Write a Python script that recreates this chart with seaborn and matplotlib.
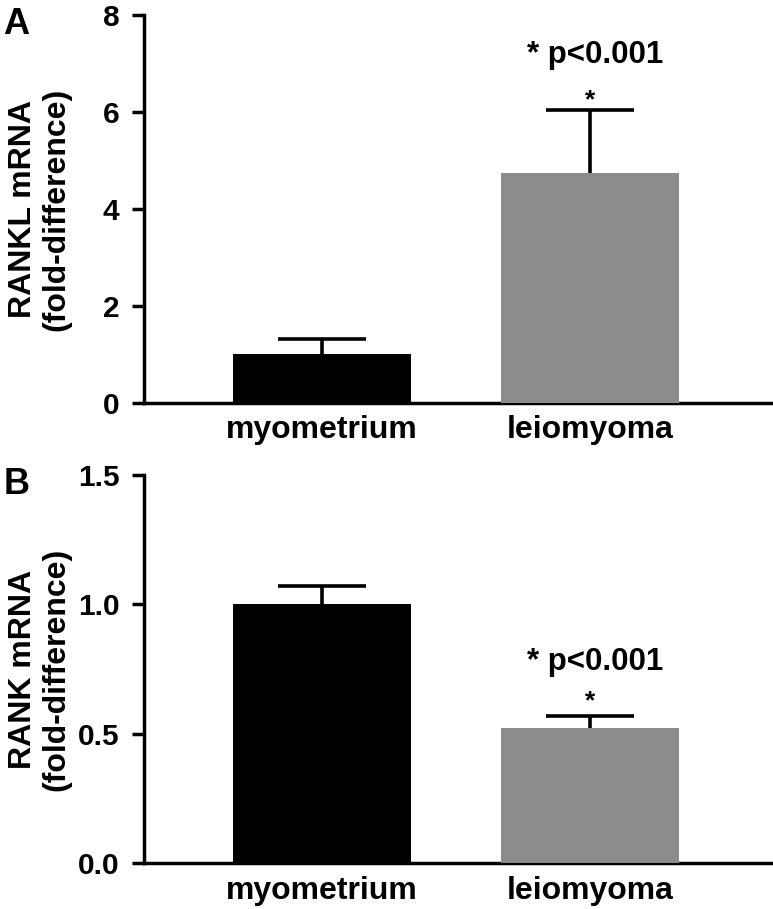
import numpy as np
import matplotlib
matplotlib.use("Agg")
import matplotlib.pyplot as plt
import seaborn as sns
import pandas as pd

# data
groups = ["myometrium", "leiomyoma"]
rankl_mean = [1.0, 4.75]
rankl_err = [0.32, 1.29]
rank_mean = [1.0, 0.522]
rank_err = [0.07, 0.047]
bar_colors = ["#000000", "#8c8c8c"]

sns.set_style("white")
plt.rcParams["font.family"] = ["Liberation Sans", "DejaVu Sans"]
plt.rcParams["font.weight"] = "bold"
for key in ["text.color", "axes.labelcolor", "xtick.color", "ytick.color"]:
    plt.rcParams[key] = "black"

fig = plt.figure(figsize=(7.73, 9.09), dpi=100)
ax_a = fig.add_axes([0.1863, 0.5567, 0.8127, 0.4268])
ax_b = fig.add_axes([0.1863, 0.0506, 0.8127, 0.4268])


def draw_panel(ax, means, errs, ylim, yticks, ylabel, label, star_y, p_y, fmt):
    df = pd.DataFrame({"group": groups, "value": means})
    sns.barplot(data=df, x="group", y="value", hue="group", palette=bar_colors,
                width=0.664, errorbar=None, legend=False, ax=ax, zorder=3,
                edgecolor="none")
    # upper error bars only, hide the lower cap
    eb = ax.errorbar(x=range(len(groups)), y=means, yerr=[[0] * len(errs), errs],
                     fmt="none", ecolor="black", elinewidth=2.6, capsize=31.5,
                     capthick=2.6, zorder=2)
    eb[1][0].set_visible(False)
    ax.set_xlim(-0.664, 1.68)
    ax.set_ylim(*ylim)
    ax.set_yticks(yticks)
    ax.set_yticklabels([fmt.format(t) for t in yticks], fontsize=21.5, fontweight="bold")
    ax.set_xticks(range(len(groups)))
    ax.set_xticklabels(groups, fontsize=23, fontweight="bold")
    ax.tick_params(axis="y", length=8.6, width=2.5, pad=9, direction="out", left=True)
    ax.tick_params(axis="x", length=0, pad=9)
    ax.set_xlabel("")
    ax.set_ylabel(ylabel, fontsize=23, fontweight="bold", linespacing=1.15)
    ax.yaxis.set_label_coords(-0.116, 0.5)
    sns.despine(ax=ax)
    for side in ["left", "bottom"]:
        ax.spines[side].set_linewidth(2.5)
        ax.spines[side].set_color("black")
    ax.text(1.0, star_y, "*", ha="center", va="center", fontsize=19, fontweight="bold")
    ax.text(1.02, p_y, "* p<0.001", ha="center", va="center", fontsize=22.5, fontweight="bold")
    ax.text(-0.224, 1.02, label, transform=ax.transAxes, ha="left", va="top",
            fontsize=26, fontweight="bold")


draw_panel(ax_a, rankl_mean, rankl_err, (0, 8), [0, 2, 4, 6, 8],
           "RANKL mRNA\n(fold-difference)", "A", 6.25, 7.18, "{:.0f}")
draw_panel(ax_b, rank_mean, rank_err, (0, 1.5), [0.0, 0.5, 1.0, 1.5],
           "RANK mRNA\n(fold-difference)", "B", 0.625, 0.777, "{:.1f}")

fig.savefig("out.png", dpi=100)
